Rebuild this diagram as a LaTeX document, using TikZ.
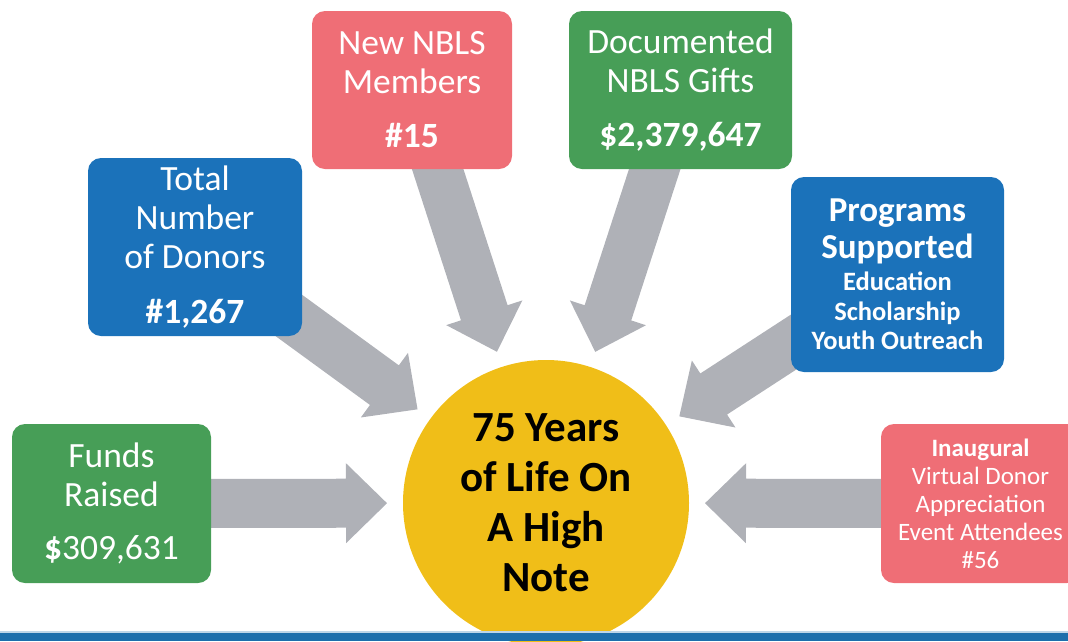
\documentclass[tikz,border=0pt]{standalone}
\usepackage{fontspec}
\setmainfont{Carlito}
\usetikzlibrary{calc}
\pgfdeclarelayer{background}
\pgfsetlayers{background,main}
\definecolor{boxblue}{RGB}{27,114,186}
\definecolor{boxgreen}{RGB}{71,158,87}
\definecolor{boxpink}{RGB}{239,110,118}
\definecolor{hubyellow}{RGB}{240,190,24}
\definecolor{arrowgray}{RGB}{175,177,183}
\definecolor{barblue}{RGB}{29,111,172}
\definecolor{barlight}{RGB}{190,214,232}
\tikzset{
  box/.style={rounded corners=13pt, inner sep=0pt, text=white, align=center,
    font=\fontsize{35.5}{39}\selectfont},
  hubstyle/.style={circle, fill=hubyellow, minimum size=286pt, inner sep=0pt,
    align=center, font=\bfseries\fontsize{43}{50}\selectfont, text=black},
  arrowfill/.style={fill=arrowgray}
}
\newcommand{\blockarrow}[1]{%
  \coordinate (tl) at (#1.center);
  \coordinate (tp) at ($(hub.center)!159pt!(#1.center)$);
  \coordinate (hb) at ($(tp)!41pt!(tl)$);
  \fill[arrowfill] ($(tl)!24.5pt!90:(tp)$) -- ($(hb)!24.5pt!-90:(tl)$)
    -- ($(hb)!40pt!-90:(tl)$) -- (tp) -- ($(hb)!40pt!90:(tl)$)
    -- ($(hb)!24.5pt!90:(tl)$) -- ($(tl)!24.5pt!-90:(tp)$) -- cycle;
}
\begin{document}
\begin{tikzpicture}[x=1pt,y=-1pt]
\clip (0,0) rectangle (1068,641);

\node[hubstyle] (hub) at (546,503) {75 Years\\of Life On\\A High\\Note};

\node[box, fill=boxgreen, minimum width=199pt, minimum height=159pt] (funds) at (111.5,503.5)
  {Funds\\Raised\\[14pt]{\bfseries\$}309,631};
\node[box, fill=boxblue, minimum width=214pt, minimum height=178pt] (donors) at (195,247)
  {Total\\Number\\of Donors\\[16pt]\textbf{\#1,267}};
\node[box, fill=boxpink, minimum width=200pt, minimum height=158pt] (members) at (412,90)
  {New NBLS\\Members\\[15pt]\textbf{\#15}};
\node[box, fill=boxgreen, minimum width=223pt, minimum height=158pt] (gifts) at (680.5,90)
  {Documented\\NBLS Gifts\\[15pt]\textbf{\$2,379,647}};
\node[box, fill=boxblue, minimum width=213pt, minimum height=195pt,
  font=\bfseries\fontsize{26.5}{29.5}\selectfont] (programs) at (897.5,274.5)
  {{\fontsize{35}{37}\selectfont Programs}\\[5pt]{\fontsize{35}{37}\selectfont Supported}\\[3pt]Education\\Scholarship\\Youth Outreach};
\node[box, fill=boxpink, minimum width=199pt, minimum height=159pt,
  font=\fontsize{25}{28}\selectfont] (inaug) at (980.5,503.5)
  {\textbf{Inaugural}\\Virtual Donor\\Appreciation\\Event Attendees\\\#56};

\begin{pgfonlayer}{background}
  \blockarrow{funds}
  \blockarrow{donors}
  \blockarrow{members}
  \blockarrow{gifts}
  \blockarrow{programs}
  \blockarrow{inaug}
\end{pgfonlayer}

\fill[barlight] (0,631) rectangle (1068,633);
\fill[barblue] (0,633) rectangle (1068,641);
\end{tikzpicture}
\end{document}
